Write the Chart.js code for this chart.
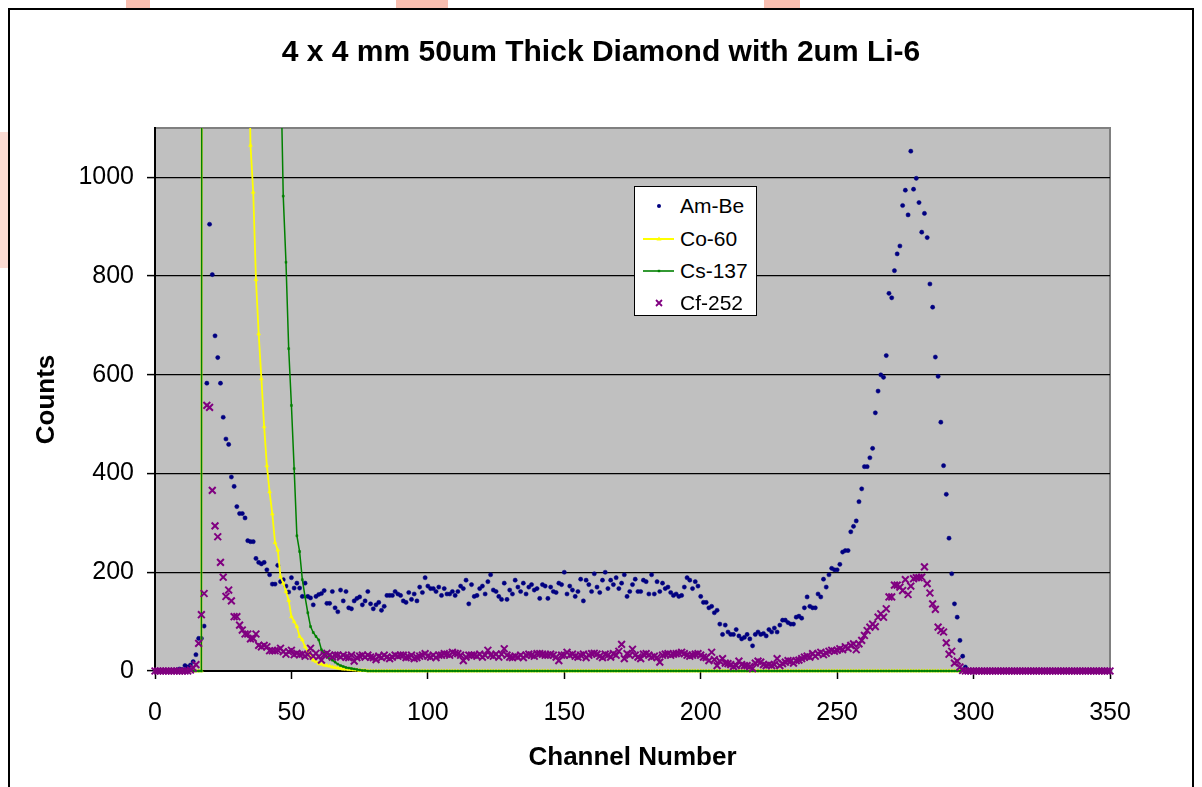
<!DOCTYPE html>
<html>
<head>
<meta charset="utf-8">
<title>4 x 4 mm 50um Thick Diamond with 2um Li-6</title>
<script src="https://cdn.jsdelivr.net/npm/chart.js@4.4.0/dist/chart.umd.min.js"></script>
<style>
  html, body { margin: 0; padding: 0; background: #fff; overflow: hidden; }
  #wrap { position: relative; width: 1202px; height: 787px; }
  .mark { position: absolute; background: rgba(240, 110, 80, 0.45); }
  #frame { position: absolute; left: 8px; top: 8px; width: 1186px; height: 800px;
           border: 2px solid #000; box-sizing: border-box; background: #fff; }
  #chart { position: absolute; left: 0; top: 0; }
  #legend { position: absolute; left: 634px; top: 186px; width: 123px; height: 130px;
            background: #fff; border: 1px solid #000; box-sizing: border-box;
            font-family: "Liberation Sans", Arial, sans-serif; font-size: 21px; color: #000; }
  #legend .row { position: absolute; left: 0; height: 32px; line-height: 32px; white-space: nowrap; }
  #legend svg { position: absolute; left: 8px; top: 0; }
  #legend span { position: absolute; left: 45px; top: 0; }
</style>
</head>
<body>
<div id="wrap">
  <div class="mark" style="left:126px;top:0;width:24px;height:8px"></div>
  <div class="mark" style="left:396px;top:0;width:52px;height:8px"></div>
  <div class="mark" style="left:764px;top:0;width:36px;height:8px"></div>
  <div class="mark" style="left:0;top:132px;width:8px;height:136px;background:rgba(240,110,80,0.25)"></div>
  <div id="frame"></div>
  <canvas id="chart" width="1202" height="787"></canvas>
  <div id="legend"></div>
</div>
<script>
const title = '4 x 4 mm 50um Thick Diamond with 2um Li-6';
const seriesNames = ['Am-Be', 'Co-60', 'Cs-137', 'Cf-252'];
const seriesColors = ['#000080', '#ffff00', '#008000', '#800080'];
const xTicks = [0, 50, 100, 150, 200, 250, 300, 350];
const yTicks = [0, 200, 400, 600, 800, 1000];

// channel number 0..350
const channels = Array.from({ length: 351 }, (_, i) => i);

const amBe = [
  0,0,0,0,0,0,0,0,2,4,                          // 0
  3,11,8,12,19,33,66,66,91,583,                 // 10
  905,803,679,635,583,514,470,459,393,374,      // 20
  333,319,319,310,264,262,262,228,220,217,      // 30
  220,205,195,176,176,214,181,185,172,160,      // 40
  189,168,178,168,151,178,151,148,134,151,      // 50
  155,157,163,137,137,161,128,120,164,142,      // 60
  161,128,126,142,147,150,134,142,161,136,      // 70
  126,134,139,123,131,153,153,153,161,156,      // 80
  153,142,139,159,145,156,142,170,159,189,      // 90
  172,167,167,161,170,153,167,156,156,161,      // 100
  153,161,172,167,184,136,175,151,153,167,      // 110
  172,156,181,195,164,161,151,145,178,145,      // 120
  164,156,184,170,161,178,156,170,175,164,      // 130
  167,147,175,172,147,170,161,159,178,175,      // 140
  200,156,172,164,151,161,186,142,184,175,      // 150
  161,197,170,159,184,200,167,184,175,189,      // 160
  167,178,195,151,161,175,186,161,161,184,      // 170
  181,156,195,156,181,161,178,167,170,159,      // 180
  153,156,151,153,170,189,184,167,181,172,      // 190
  151,139,139,128,131,118,123,95,74,93,         // 200
  79,74,74,84,71,65,68,74,65,51,                // 210
  74,79,74,76,71,84,79,87,79,93,                // 220
  103,103,98,95,95,109,111,107,128,150,         // 230
  131,128,128,156,150,186,170,195,208,205,      // 240
  205,216,241,244,244,282,293,304,343,369,      // 250
  414,414,432,451,523,567,600,595,639,765,      // 260
  756,811,845,861,943,974,924,1053,976,998,     // 270
  949,889,927,878,784,737,636,597,504,416,      // 280
  358,269,197,136,109,62,30,8,0,0,              // 290
  0,0,0,0,0,0,0,0,0,0, 0,0,0,0,0,0,0,0,0,0,     // 300
  0,0,0,0,0,0,0,0,0,0, 0,0,0,0,0,0,0,0,0,0,     // 320
  0,0,0,0,0,0,0,0,0,0,                          // 340
  0                                             // 350
];

const co60 = [
  0,0,0,0,0,0,0,0,0,0,                          // 0
  0,0,0,0,0,0,0,0,9800,12400,                   // 10
  11800,10900,9900,8900,7900,7000,6100,5300,4600,3900, // 20
  3300,2700,2200,1800,1400,1065,970,793,683,592, // 30
  495,416,363,318,260,245,191,178,161,143,      // 40
  110,100,90,70,63,49,40,30,22,19,              // 50
  15,14,12,11,10,8,7,6,5,4,                     // 60
  4,3,3,2,2,1,1,1,0,0,                          // 70
  0,0,0,0,0,0,0,0,0,0, 0,0,0,0,0,0,0,0,0,0, 0,0,0,0,0,0,0,0,0,0, // 80
  0,0,0,0,0,0,0,0,0,0, 0,0,0,0,0,0,0,0,0,0, 0,0,0,0,0,0,0,0,0,0, // 110
  0,0,0,0,0,0,0,0,0,0, 0,0,0,0,0,0,0,0,0,0, 0,0,0,0,0,0,0,0,0,0, // 140
  0,0,0,0,0,0,0,0,0,0, 0,0,0,0,0,0,0,0,0,0, 0,0,0,0,0,0,0,0,0,0, // 170
  0,0,0,0,0,0,0,0,0,0, 0,0,0,0,0,0,0,0,0,0, 0,0,0,0,0,0,0,0,0,0, // 200
  0,0,0,0,0,0,0,0,0,0, 0,0,0,0,0,0,0,0,0,0, 0,0,0,0,0,0,0,0,0,0, // 230
  0,0,0,0,0,0,0,0,0,0, 0,0,0,0,0,0,0,0,0,0, 0,0,0,0,0,0,0,0,0,0, // 260
  0,0,0,0,0,0,0,0,0,0, 0,0,0,0,0,0,0,0,0,0, 0,0,0,0,0,0,0,0,0,0, // 290
  0,0,0,0,0,0,0,0,0,0, 0,0,0,0,0,0,0,0,0,0, 0,0,0,0,0,0,0,0,0,0, // 320
  0                                             // 350
];

const cs137 = [
  0,0,0,0,0,0,0,0,0,0,                          // 0
  0,0,0,0,0,0,0,0,9000,16000,                   // 10
  15000,14000,13000,12500,12000,11500,11000,10500,10000,9500, // 20
  9000,8400,7800,7200,6600,6000,5400,4800,4300,3800, // 30
  3300,2900,2500,2100,1800,1500,1250,962,828,653, // 40
  538,410,274,242,185,150,118,90,78,70,         // 50
  63,43,36,29,25,22,18,14,11,9,                 // 60
  7,6,5,4,3,2,1,1,0,0,                          // 70
  0,0,0,0,0,0,0,0,0,0, 0,0,0,0,0,0,0,0,0,0, 0,0,0,0,0,0,0,0,0,0, // 80
  0,0,0,0,0,0,0,0,0,0, 0,0,0,0,0,0,0,0,0,0, 0,0,0,0,0,0,0,0,0,0, // 110
  0,0,0,0,0,0,0,0,0,0, 0,0,0,0,0,0,0,0,0,0, 0,0,0,0,0,0,0,0,0,0, // 140
  0,0,0,0,0,0,0,0,0,0, 0,0,0,0,0,0,0,0,0,0, 0,0,0,0,0,0,0,0,0,0, // 170
  0,0,0,0,0,0,0,0,0,0, 0,0,0,0,0,0,0,0,0,0, 0,0,0,0,0,0,0,0,0,0, // 200
  0,0,0,0,0,0,0,0,0,0, 0,0,0,0,0,0,0,0,0,0, 0,0,0,0,0,0,0,0,0,0, // 230
  0,0,0,0,0,0,0,0,0,0, 0,0,0,0,0,0,0,0,0,0, 0,0,0,0,0,0,0,0,0,0, // 260
  0,0,0,0,0,0,0,0,0,0, 0,0,0,0,0,0,0,0,0,0, 0,0,0,0,0,0,0,0,0,0, // 290
  0,0,0,0,0,0,0,0,0,0, 0,0,0,0,0,0,0,0,0,0, 0,0,0,0,0,0,0,0,0,0, // 320
  0                                             // 350
];

const cf252 = [
  0,0,0,0,0,0,0,0,0,0,                          // 0
  0,0,0,2,6,13,56,114,157,538,                  // 10
  534,366,294,272,220,190,151,164,142,110,      // 20
  110,93,83,75,75,65,66,75,52,49,               // 30
  52,49,41,41,41,42,46,39,34,39,                // 40
  42,33,36,33,34,30,33,46,30,36,                // 50
  29,22,33,36,32,28,32,32,28,32,                // 60
  28,27,32,20,27,30,32,28,32,28,                // 70
  27,23,30,27,32,28,25,28,32,30,                // 80
  32,32,27,28,32,25,27,30,32,35,                // 90
  30,28,32,27,32,32,35,34,32,38,                // 100
  36,35,32,21,28,32,32,32,30,34,                // 110
  28,32,42,32,30,34,28,34,45,32,                // 120
  28,27,30,28,32,27,32,34,32,30,                // 130
  35,35,34,32,32,34,32,28,21,32,                // 140
  32,38,32,34,30,28,32,34,27,32,                // 150
  35,36,34,30,27,34,32,28,35,32,                // 160
  40,54,25,35,32,44,32,28,25,34,                // 170
  35,32,28,30,27,18,32,34,35,32,                // 180
  34,35,36,38,35,32,30,32,34,35,                // 190
  32,28,27,21,38,23,11,20,25,16,                // 200
  15,13,9,11,20,13,11,11,9,5,                   // 210
  16,20,18,13,11,13,11,13,25,11,                // 220
  15,18,21,20,16,21,22,25,28,30,                // 230
  28,35,30,35,38,33,36,40,42,40,                // 240
  42,45,43,49,46,52,55,43,55,62,                // 250
  72,82,89,95,90,109,116,109,126,150,           // 260
  150,174,174,170,163,185,155,172,187,189,      // 270
  189,190,211,177,158,136,125,89,82,79,         // 280
  57,34,40,16,20,8,1,0,0,0,                     // 290
  0,0,0,0,0,0,0,0,0,0, 0,0,0,0,0,0,0,0,0,0,     // 300
  0,0,0,0,0,0,0,0,0,0, 0,0,0,0,0,0,0,0,0,0,     // 320
  0,0,0,0,0,0,0,0,0,0,                          // 340
  0                                             // 350
];

function points(values) {
  return channels.map((c, i) => ({ x: c, y: values[i] }));
}

// grey plot area with a grey frame on top and right, like Excel
const plotBackground = {
  id: 'plotBackground',
  beforeDraw(chart) {
    const { ctx, chartArea: a } = chart;
    ctx.save();
    ctx.fillStyle = '#c0c0c0';
    ctx.fillRect(a.left, a.top, a.right - a.left, a.bottom - a.top);
    ctx.strokeStyle = '#808080';
    ctx.lineWidth = 2;
    ctx.beginPath();
    ctx.moveTo(a.left, a.top);
    ctx.lineTo(a.right, a.top);
    ctx.lineTo(a.right, a.bottom);
    ctx.stroke();
    ctx.restore();
  }
};

Chart.defaults.font.family = '"Liberation Sans", Arial, sans-serif';
Chart.defaults.color = '#000';

const scatterClip = { left: 6, top: 6, right: 6, bottom: 8 };
const lineClip = { left: 2, top: 0, right: 2, bottom: 3 };

const ctx = document.getElementById('chart').getContext('2d');
const chart = new Chart(ctx, {
  type: 'scatter',
  data: {
    datasets: [
      {
        label: seriesNames[0], data: points(amBe), order: 4, clip: scatterClip,
        pointStyle: 'circle', pointRadius: 2.1, pointBackgroundColor: seriesColors[0],
        pointBorderColor: seriesColors[0], pointBorderWidth: 0.5, showLine: false
      },
      {
        label: seriesNames[1], data: points(co60), order: 3, clip: lineClip,
        showLine: true, borderColor: seriesColors[1], borderWidth: 1.8,
        pointStyle: 'triangle', pointRadius: 2.2, pointBackgroundColor: seriesColors[1],
        pointBorderColor: seriesColors[1], pointBorderWidth: 0.5
      },
      {
        label: seriesNames[2], data: points(cs137), order: 2, clip: lineClip,
        showLine: true, borderColor: seriesColors[2], borderWidth: 1.5,
        pointStyle: 'rect', pointRadius: 1.4, pointBackgroundColor: seriesColors[2],
        pointBorderColor: seriesColors[2], pointBorderWidth: 0.5
      },
      {
        label: seriesNames[3], data: points(cf252), order: 1, clip: scatterClip,
        pointStyle: 'crossRot', pointRadius: 4.8, pointBorderColor: seriesColors[3],
        pointBorderWidth: 2, showLine: false
      }
    ]
  },
  options: {
    responsive: false,
    animation: false,
    events: [],
    layout: { padding: 0 },
    plugins: {
      legend: { display: false },
      tooltip: { enabled: false },
      title: {
        display: true, text: title, color: '#000',
        font: { size: 30, weight: 'bold' },
        padding: { top: 35, bottom: 57 }
      }
    },
    scales: {
      x: {
        type: 'linear', min: 0, max: 350,
        afterBuildTicks(scale) { scale.ticks = xTicks.map(v => ({ value: v })); },
        afterFit(scale) { scale.height = 116; },
        ticks: { padding: 19, font: { size: 25 }, color: '#000', maxRotation: 0, autoSkip: false },
        grid: { drawOnChartArea: false, drawTicks: true, tickLength: 8, tickColor: '#000', tickWidth: 1.5 },
        border: { color: '#000', width: 2 },
        title: {
          display: true, text: 'Channel Number', color: '#000',
          font: { size: 26, weight: 'bold' }, padding: { top: 0, bottom: 14 }
        }
      },
      y: {
        type: 'linear', min: 0, max: 1100,
        afterBuildTicks(scale) { scale.ticks = yTicks.map(v => ({ value: v })); },
        afterFit(scale) { scale.width = 155; },
        ticks: { padding: 13, font: { size: 25 }, color: '#000', callback: v => String(v) },
        grid: { color: '#000', lineWidth: 1.2, tickLength: 8, tickColor: '#000', tickWidth: 1.5 },
        border: { color: '#000', width: 2 },
        title: {
          display: true, text: 'Counts', color: '#000',
          font: { size: 26, weight: 'bold' }, padding: { top: 31, bottom: 0 }
        }
      },
      // empty right-hand axis, only reserves the white margin right of the plot
      yRight: {
        type: 'linear', position: 'right', min: 0, max: 1100,
        ticks: { display: false },
        grid: { display: false },
        border: { display: false },
        afterFit(scale) { scale.width = 92; }
      }
    }
  },
  plugins: [plotBackground]
});

// legend box inside the plot area
const legendSymbols = [
  '<circle cx="16" cy="16" r="2" fill="#000080"/>',
  '<line x1="0" y1="16" x2="31" y2="16" stroke="#ffff00" stroke-width="2"/><polygon points="16,13.5 18.5,17.5 13.5,17.5" fill="#ffff00"/>',
  '<line x1="0" y1="16" x2="31" y2="16" stroke="#008000" stroke-width="1.6"/><rect x="14.8" y="14.8" width="2.4" height="2.4" fill="#008000"/>',
  '<path d="M13 13 L19 19 M19 13 L13 19" stroke="#800080" stroke-width="1.8"/>'
];
const rowCenters = [19, 52, 84, 116];
const legend = document.getElementById('legend');
seriesNames.forEach((name, i) => {
  const row = document.createElement('div');
  row.className = 'row';
  row.style.top = (rowCenters[i] - 16) + 'px';
  row.style.width = '120px';
  row.innerHTML = '<svg width="31" height="32" viewBox="0 0 31 32">' + legendSymbols[i] + '</svg><span>' + name + '</span>';
  legend.appendChild(row);
});
</script>
</body>
</html>
